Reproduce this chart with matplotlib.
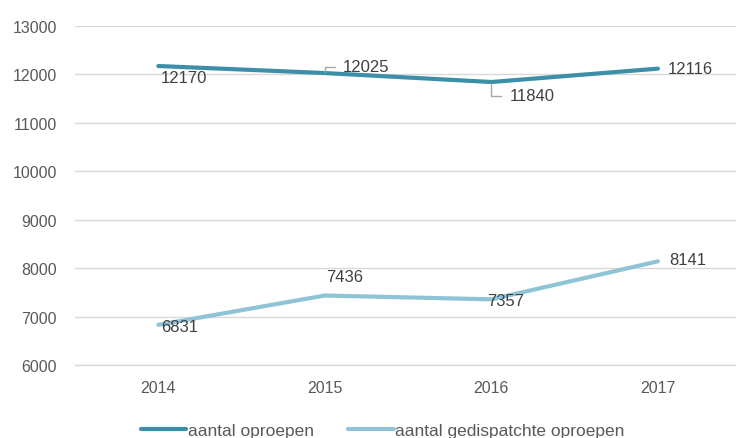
import matplotlib.pyplot as plt

years = ["2014", "2015", "2016", "2017"]
oproepen = [12170, 12025, 11840, 12116]
gedispatcht = [6831, 7436, 7357, 8141]
y_ticks = [6000, 7000, 8000, 9000, 10000, 11000, 12000, 13000]

dark = "#3b8fa7"
light = "#8ec4d6"
text_color = "#404040"

plt.rcParams["font.family"] = ["Liberation Sans", "DejaVu Sans"]

fig = plt.figure(figsize=(7.36, 4.39), dpi=100)
ax = fig.add_axes([0.102, 0.166, 0.905, 0.773])

x = range(len(years))
ax.plot(x, oproepen, color=dark, lw=3, solid_capstyle="round", label="aantal oproepen", zorder=3)
ax.plot(x, gedispatcht, color=light, lw=3, solid_capstyle="round", label="aantal gedispatchte oproepen", zorder=3)

ax.set_xlim(-0.5, 3.5)
ax.set_ylim(6000, 13000)
ax.set_yticks(y_ticks)
ax.set_xticks(list(x))
ax.set_xticklabels(years)
ax.grid(axis="y", color="#d9d9d9", lw=1)
ax.axhline(6000, color="#d9d9d9", lw=1, clip_on=False, zorder=0)
ax.set_axisbelow(True)
for s in ax.spines.values():
    s.set_visible(False)
ax.tick_params(length=0, colors="#595959", labelsize=11.5)
ax.tick_params(axis="y", pad=13)
ax.tick_params(axis="x", pad=11)

# data labels: (offset in points, leader line?)
top_offsets = [(1.5, -8, False), (13, 4.5, True), (13, -10, True), (7, 0, False)]
bot_offsets = [(2, -1, False), (1, 14, False), (-3, -1, False), (8, 1, False)]

def label(i, v, off):
    dx, dy, leader = off
    kw = {}
    if leader:
        kw["arrowprops"] = dict(arrowstyle="-", color="#a6a6a6", lw=1,
                                connectionstyle="angle,angleA=180,angleB=90,rad=0",
                                shrinkA=4, shrinkB=1, relpos=(0, 0.5))
    ax.annotate(str(v), (i, v), xytext=(dx, dy), textcoords="offset points",
                ha="left", va="center", fontsize=12, color=text_color, **kw)

for i, v in enumerate(oproepen):
    label(i, v, top_offsets[i])
for i, v in enumerate(gedispatcht):
    label(i, v, bot_offsets[i])

fig.legend(loc="center", bbox_to_anchor=(0.52, 0.018), ncol=2, frameon=False,
           fontsize=12.5, handlelength=2.6, handletextpad=0.1, columnspacing=2.0,
           labelcolor="#595959")

fig.savefig("out.png", dpi=100)
